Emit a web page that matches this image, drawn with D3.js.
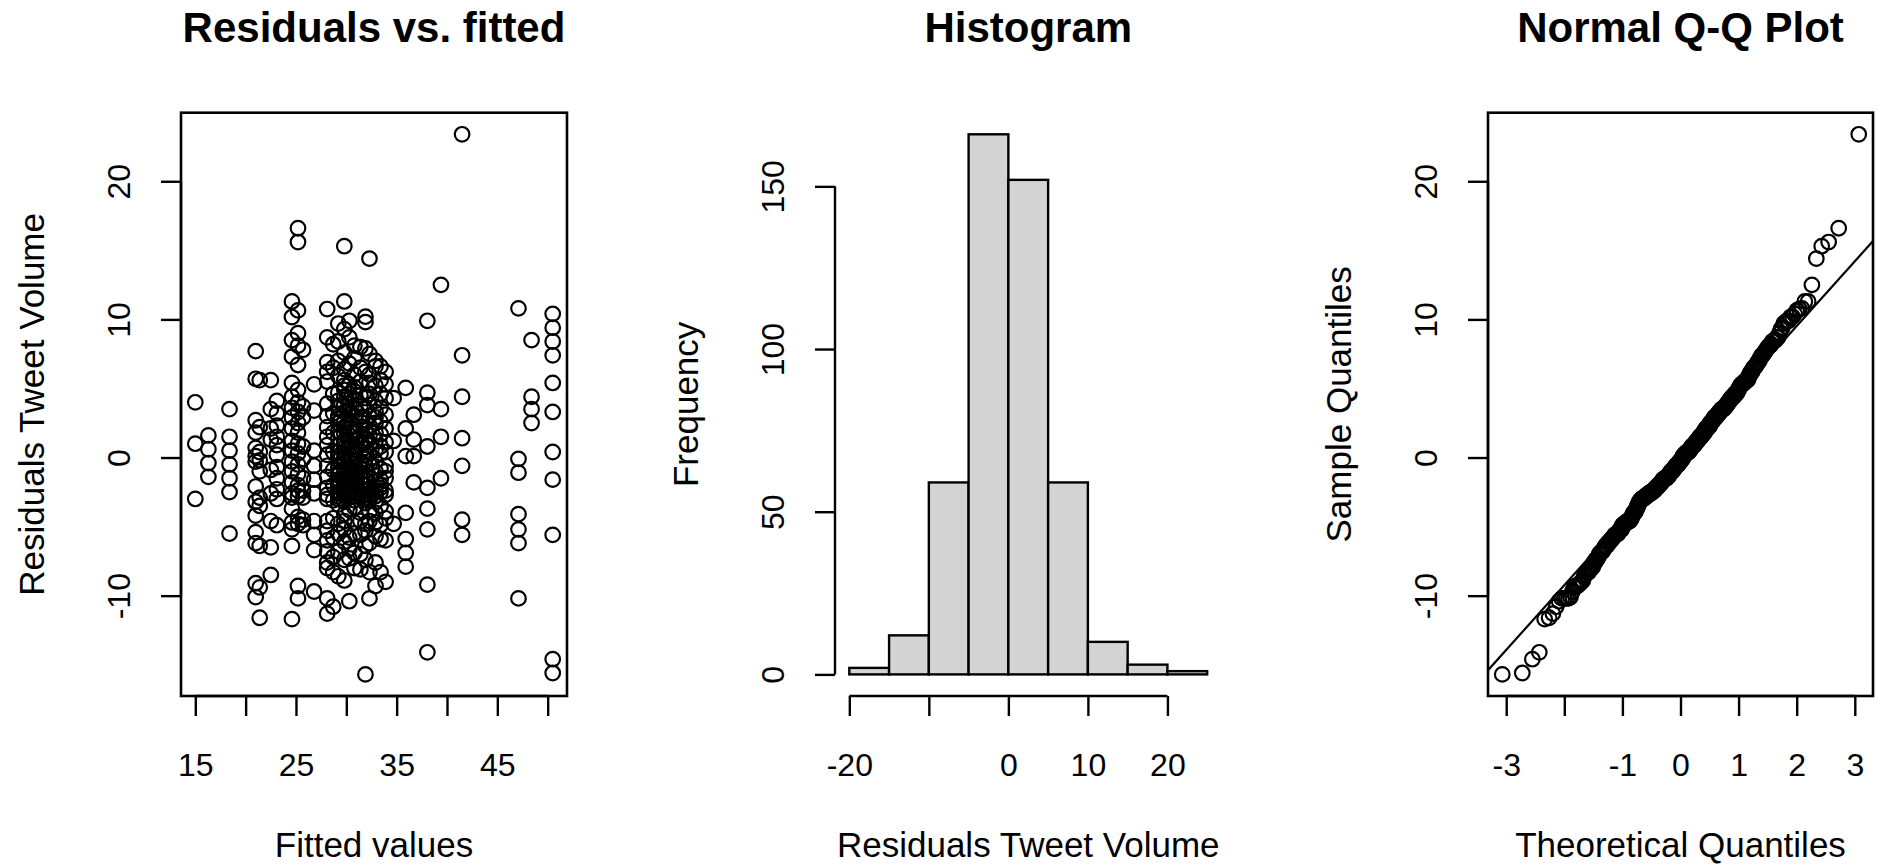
<!DOCTYPE html>
<html>
<head>
<meta charset="utf-8">
<script src="https://cdn.jsdelivr.net/npm/d3@7"></script>
<style>
  body { margin: 0; background: #fff; }
  text { font-family: "Liberation Sans", Arial, sans-serif; fill: #000; }
</style>
</head>
<body>
<svg id="chart" width="1881" height="867"></svg>
<script>
// Fitted values of the model (one per group of observations) and the residuals at each.
const fittedLevels = [15.0, 16.3, 18.4, 21.0, 21.4, 22.5, 23.1, 24.6, 25.2, 25.7, 26.8, 28.1, 28.7,
  29.2, 29.8, 30.3, 30.8, 31.4, 31.9, 32.3, 32.9, 33.4, 33.9, 34.7, 35.9, 36.7, 38.05, 39.4, 41.5,
  47.1, 48.4, 50.5];

const residualsByLevel = [
  [4.0, 1.0, -3.0],
  [1.6, 0.6, -0.4, -1.4],
  [3.5, 1.5, 0.5, -0.5, -1.5, -2.5, -5.5],
  [7.7, 5.7, 2.7, 1.8, 0.7, 0.1, -0.3, -2.1, -3.2, -4.2, -5.4, -6.2, -9.1, -10.1],
  [5.6, 2.2, 0.4, -0.2, -1.0, -2.9, -3.5, -6.4, -9.4, -11.6],
  [5.6, 3.5, 2.1, 1.3, -0.9, -2.6, -4.6, -6.5, -8.5],
  [4.1, 3.2, 2.3, 1.5, 0.9, 0.2, -0.7, -1.5, -2.3, -3.0, -4.9],
  [11.3, 10.17, 8.5, 7.3, 5.4, 4.4, 3.6, 2.9, 2.1, 1.2, 0.5, -0.3, -1.0, -1.8, -2.6, -2.9, -3.7, -4.7, -5.2, -6.4, -11.7],
  [16.6, 15.6, 10.65, 9.0, 8.1, 6.7, 4.9, 4.0, 3.3, 2.5, 1.8, 1.0, 0.3, -0.5, -1.2, -2.0, -2.8, -2.4, -4.3, -4.8, -9.3, -10.2],
  [7.8, 3.7, 2.9, 0.8, -0.1, -1.5, -2.4, -2.9, -4.5, -4.9],
  [5.3, 3.4, 0.5, -0.6, -1.6, -2.6, -4.6, -5.6, -6.7, -9.7],
  [10.75, 8.7, 6.9, 6.2, 5.5, 3.9, 3.0, 2.2, 1.5, 0.9, 0.2, -0.6, -1.4, -2.2, -3.0, -2.7, -4.6, -5.3, -6.0, -6.8, -7.6, -8.0, -10.2, -11.3],
  [8.2, 6.5, 4.6, 3.2, 1.8, 0.4, -0.9, -2.0, -3.1, -4.4, -5.8, -7.2, -8.3, -10.8],
  [9.7, 8.4, 7.0, 5.9, 4.7, 4.1, 3.6, 3.0, 2.8, 2.5, 1.9, 1.4, 0.9, 0.4, 0.1, -0.2, -0.7, -1.1, -1.3, -1.6, -2.1, -2.5, -2.8, -3.0, -2.6, -1.8, -3.4, -4.8, -5.5, -6.8, -8.6],
  [15.3, 11.3, 9.3, 7.6, 6.4, 5.6, 5.2, 4.9, 4.4, 3.8, 3.3, 2.6, 2.2, 1.7, 1.2, 1.0, 0.7, 0.3, -0.1, -0.4, -0.8, -1.4, -1.7, -1.9, -2.3, -2.7, -3.2, -2.5, -1.1, -4.1, -4.6, -5.2, -6.1, -7.4, -8.9],
  [9.9, 8.7, 6.8, 5.3, 4.6, 3.9, 3.4, 3.1, 2.7, 2.1, 1.6, 1.1, 0.6, 0.2, -0.3, -0.9, -1.2, -1.4, -1.9, -2.4, -2.6, -2.9, -2.1, -0.7, -3.8, -5.8, -6.6, -7.3, -10.4],
  [8.1, 7.2, 6.0, 5.1, 4.8, 4.2, 3.5, 2.9, 2.3, 2.0, 1.8, 1.3, 0.8, 0.3, -0.2, -0.5, -1.0, -1.6, -2.0, -2.5, -3.1, -2.8, -1.3, -3.6, -4.7, -5.5, -6.9, -8.0],
  [8.0, 6.5, 5.5, 4.5, 3.7, 2.9, 2.6, 2.2, 1.5, 0.9, 0.4, -0.4, -0.8, -1.1, -1.8, -2.2, -2.6, -2.9, -1.5, -4.0, -4.6, -5.6, -7.0, -8.1],
  [10.2, 9.8, 7.9, 6.2, 4.3, 3.5, 2.7, 2.0, 1.4, 1.1, 0.7, 0.2, -0.1, -0.6, -1.3, -1.6, -2.0, -2.7, -3.0, -2.4, -3.3, -4.8, -5.3, -6.4, -7.4, -15.7],
  [14.4, 7.5, 6.0, 5.4, 4.6, 3.8, 3.0, 2.3, 1.6, 0.9, 0.3, -0.5, -1.4, -1.9, -2.3, -2.7, -3.1, -3.9, -4.6, -6.2, -8.3, -10.2],
  [7.0, 6.6, 5.2, 4.1, 3.3, 2.9, 2.5, 1.8, 1.2, 0.5, -0.3, -1.0, -1.7, -2.4, -3.2, -2.8, -4.0, -4.7, -5.7, -7.6, -9.3],
  [6.6, 5.6, 4.6, 3.6, 2.6, 1.7, 0.8, 0.3, -0.8, -1.6, -2.0, -2.5, -2.2, -3.5, -4.9, -5.9, -8.3],
  [6.2, 5.3, 4.3, 3.1, 2.1, 1.1, 0.4, -0.6, -1.0, -1.5, -2.4, -2.7, -3.9, -4.4, -6.0, -9.0],
  [4.3, 1.2, -4.8],
  [5.04, 2.1, 0.1, -4.0, -5.9, -6.9, -7.9],
  [3.1, 1.3, 0.1, -1.8],
  [9.9, 4.7, 3.8, 0.8, -2.2, -3.7, -5.2, -9.2, -14.1],
  [12.5, 3.5, 1.5, -1.5],
  [23.4, 7.4, 4.4, 1.4, -0.6, -4.5, -5.6],
  [10.8, -0.1, -1.1, -4.1, -5.2, -6.2, -10.2],
  [8.5, 4.4, 3.5, 2.5],
  [10.4, 9.4, 8.4, 7.4, 5.4, 3.3, 0.4, -1.6, -5.6, -14.6, -15.6]
];

// Histogram break points and axis ticks
const histBreaks = [-20, -15, -10, -5, 0, 5, 10, 15, 20, 25];
const fittedTicks = [15, 20, 25, 30, 35, 40, 45, 50];
const fittedTickLabels = [15, 25, 35, 45];
const residualTicks = [-10, 0, 10, 20];
const histXTicks = [-20, -10, 0, 10, 20];
const histXTickLabels = [-20, 0, 10, 20];
const freqTicks = [0, 50, 100, 150];
const theoTicks = [-3, -2, -1, 0, 1, 2, 3];
const theoTickLabels = [-3, -1, 0, 1, 2, 3];

const panelTitles = ["Residuals vs. fitted", "Histogram", "Normal Q-Q Plot"];
const xTitles = ["Fitted values", "Residuals Tweet Volume", "Theoretical Quantiles"];
const yTitles = ["Residuals Tweet Volume", "Frequency", "Sample Quantiles"];

// ---- derived data ----
const points = [];
fittedLevels.forEach((f, i) => residualsByLevel[i].forEach(r => points.push({ fitted: f, resid: r })));
const residuals = points.map(p => p.resid);
const n = residuals.length;

// inverse standard normal CDF (Acklam's rational approximation)
function qnorm(p) {
  const a = [-3.969683028665376e+01, 2.209460984245205e+02, -2.759285104469687e+02, 1.383577518672690e+02, -3.066479806614716e+01, 2.506628277459239e+00];
  const b = [-5.447609879822406e+01, 1.615858368580409e+02, -1.556989798598866e+02, 6.680131188771972e+01, -1.328068155288572e+01];
  const c = [-7.784894002430293e-03, -3.223964580411365e-01, -2.400758277161838e+00, -2.549732539343734e+00, 4.374664141464968e+00, 2.938163982698783e+00];
  const d = [7.784695709041462e-03, 3.224671290700398e-01, 2.445134137142996e+00, 3.754408661907416e+00];
  const pl = 0.02425, ph = 1 - pl;
  let q, r;
  if (p < pl) {
    q = Math.sqrt(-2 * Math.log(p));
    return (((((c[0]*q+c[1])*q+c[2])*q+c[3])*q+c[4])*q+c[5]) / ((((d[0]*q+d[1])*q+d[2])*q+d[3])*q+1);
  }
  if (p > ph) {
    q = Math.sqrt(-2 * Math.log(1 - p));
    return -(((((c[0]*q+c[1])*q+c[2])*q+c[3])*q+c[4])*q+c[5]) / ((((d[0]*q+d[1])*q+d[2])*q+d[3])*q+1);
  }
  q = p - 0.5; r = q * q;
  return (((((a[0]*r+a[1])*r+a[2])*r+a[3])*r+a[4])*r+a[5])*q / (((((b[0]*r+b[1])*r+b[2])*r+b[3])*r+b[4])*r+1);
}

const sorted = residuals.slice().sort(d3.ascending);
const qqPoints = sorted.map((s, i) => ({ theo: qnorm((i + 1 - 0.5) / n), sample: s }));

const bins = d3.bin().domain([histBreaks[0], histBreaks[histBreaks.length - 1]])
  .thresholds(histBreaks.slice(1, -1))(residuals);

// ---- layout ----
const svg = d3.select("#chart");
const plotTop = 112.7, plotBottom = 696;
const panels = [[181, 567], [835, 1221.5], [1488, 1873]];
const pad = ([lo, hi]) => { const e = (hi - lo) * 0.04; return [lo - e, hi + e]; };

const TICK_FONT = 32, LAB_FONT = 35, TITLE_FONT = 42;
const LINE_W = 2.4;

function styleAxis(g) {
  g.selectAll("line, path").attr("stroke", "#000").attr("stroke-width", LINE_W);
  g.selectAll("text").attr("font-size", TICK_FONT).attr("fill", "#000")
    .attr("font-family", '"Liberation Sans", Arial, sans-serif');
}

function bottomAxis(scale, ticks, labels, keepDomain) {
  const g = svg.append("g").attr("transform", `translate(0,${plotBottom})`)
    .call(d3.axisBottom(scale).tickValues(ticks).tickSize(20).tickSizeOuter(0).tickPadding(37)
      .tickFormat(d => labels.includes(d) ? String(d) : ""));
  if (!keepDomain) {
    g.select(".domain").remove();
    g.append("line").attr("x1", scale(ticks[0])).attr("x2", scale(ticks[ticks.length - 1]));
  }
  styleAxis(g);
  return g;
}

function leftAxis(scale, ticks, x, keepDomain) {
  const g = svg.append("g").attr("transform", `translate(${x},0)`)
    .call(d3.axisLeft(scale).tickValues(ticks).tickSize(20).tickSizeOuter(0).tickFormat(String));
  if (!keepDomain) {
    g.select(".domain").remove();
    g.append("line").attr("y1", scale(ticks[0])).attr("y2", scale(ticks[ticks.length - 1]));
  }
  g.selectAll(".tick text")
    .attr("transform", "rotate(-90)")
    .attr("x", 0).attr("y", -51).attr("dy", 0)
    .attr("text-anchor", "middle");
  styleAxis(g);
  return g;
}

function frameBox(i) {
  const [l, r] = panels[i];
  svg.append("rect").attr("x", l).attr("y", plotTop).attr("width", r - l).attr("height", plotBottom - plotTop)
    .attr("fill", "none").attr("stroke", "#000").attr("stroke-width", 2.6);
}

function labels(i) {
  const [l, r] = panels[i];
  const cx = (l + r) / 2, cy = (plotTop + plotBottom) / 2;
  svg.append("text").attr("x", cx).attr("y", 42).attr("text-anchor", "middle")
    .attr("font-size", TITLE_FONT).attr("font-weight", "bold").text(panelTitles[i]);
  svg.append("text").attr("x", cx).attr("y", 857).attr("text-anchor", "middle")
    .attr("font-size", LAB_FONT).text(xTitles[i]);
  svg.append("text").attr("transform", `translate(${l - 137},${cy}) rotate(-90)`)
    .attr("text-anchor", "middle").attr("font-size", LAB_FONT).text(yTitles[i]);
}

const yRes = d3.scaleLinear().domain(pad(d3.extent(residuals))).range([plotBottom, plotTop]);

// ---- panel 1: residuals vs fitted ----
{
  const x = d3.scaleLinear().domain(pad(d3.extent(points, p => p.fitted))).range(panels[0]);
  svg.append("g").selectAll("circle").data(points).join("circle")
    .attr("cx", p => x(p.fitted)).attr("cy", p => yRes(p.resid)).attr("r", 7.3)
    .attr("fill", "none").attr("stroke", "#000").attr("stroke-width", 2.2);
  bottomAxis(x, fittedTicks, fittedTickLabels, false);
  leftAxis(yRes, residualTicks, panels[0][0], false);
  frameBox(0);
  labels(0);
}

// ---- panel 2: histogram of residuals ----
{
  const x = d3.scaleLinear().domain(pad([histBreaks[0], histBreaks[histBreaks.length - 1]])).range(panels[1]);
  const y = d3.scaleLinear().domain(pad([0, d3.max(bins, b => b.length)])).range([plotBottom, plotTop]);
  svg.append("g").selectAll("rect").data(bins).join("rect")
    .attr("x", b => x(b.x0)).attr("width", b => x(b.x1) - x(b.x0))
    .attr("y", b => y(b.length)).attr("height", b => y(0) - y(b.length))
    .attr("fill", "#d3d3d3").attr("stroke", "#000").attr("stroke-width", 2.4);
  bottomAxis(x, histXTicks, histXTickLabels, false);
  leftAxis(y, freqTicks, panels[1][0], false);
  labels(1);
}

// ---- panel 3: normal Q-Q plot ----
{
  const x = d3.scaleLinear().domain(pad(d3.extent(qqPoints, p => p.theo))).range(panels[2]);
  svg.append("defs").append("clipPath").attr("id", "qq-clip").append("rect")
    .attr("x", panels[2][0]).attr("y", plotTop).attr("width", panels[2][1] - panels[2][0]).attr("height", plotBottom - plotTop);
  svg.append("g").selectAll("circle").data(qqPoints).join("circle")
    .attr("cx", p => x(p.theo)).attr("cy", p => yRes(p.sample)).attr("r", 7.3)
    .attr("fill", "none").attr("stroke", "#000").attr("stroke-width", 2.2);
  // reference line through the first and third quartiles
  const q1 = d3.quantile(sorted, 0.25), q3 = d3.quantile(sorted, 0.75);
  const t1 = qnorm(0.25), t3 = qnorm(0.75);
  const slope = (q3 - q1) / (t3 - t1), icpt = q1 - slope * t1;
  const [xa, xb] = x.domain();
  svg.append("line").attr("clip-path", "url(#qq-clip)")
    .attr("x1", x(xa)).attr("y1", yRes(icpt + slope * xa))
    .attr("x2", x(xb)).attr("y2", yRes(icpt + slope * xb))
    .attr("stroke", "#000").attr("stroke-width", 2.2);
  bottomAxis(x, theoTicks, theoTickLabels, false);
  leftAxis(yRes, residualTicks, panels[2][0], false);
  frameBox(2);
  labels(2);
}
</script>
</body>
</html>
